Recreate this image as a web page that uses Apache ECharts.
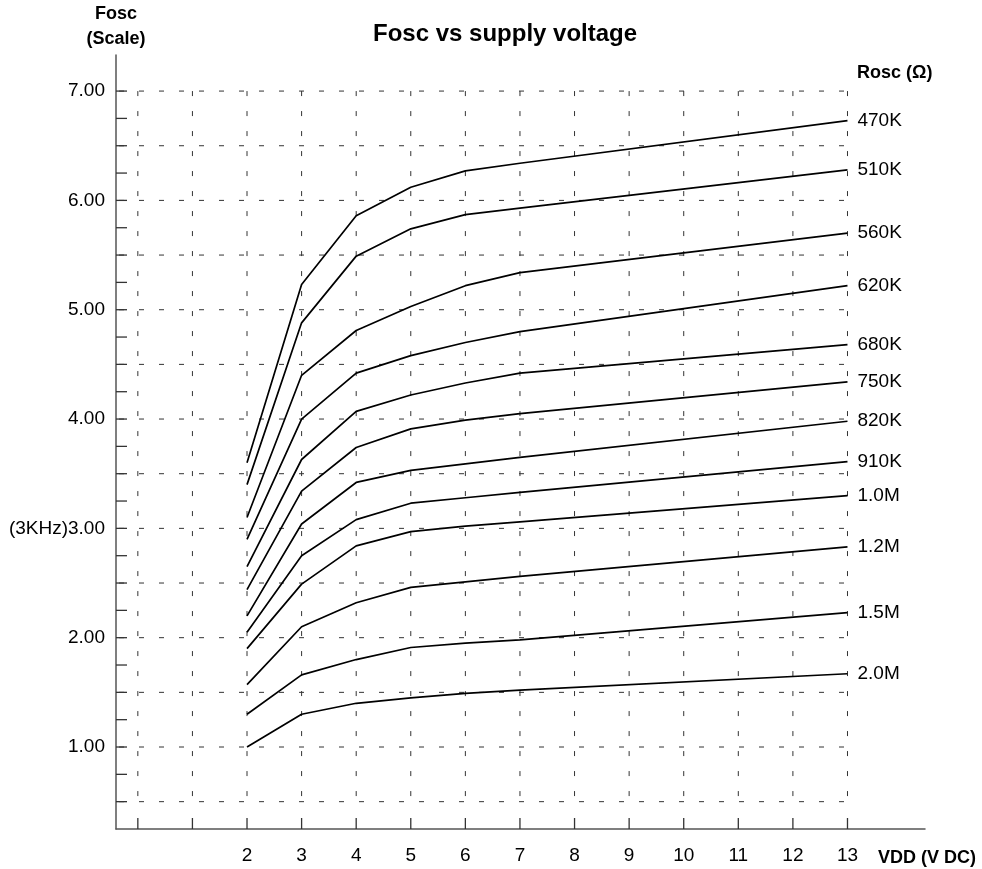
<!DOCTYPE html>
<html>
<head>
<meta charset="utf-8">
<script src="https://cdn.jsdelivr.net/npm/echarts@6/dist/echarts.min.js"></script>
<style>
html,body{margin:0;padding:0;background:#ffffff;}
#chart{width:982px;height:869px;}
</style>
</head>
<body>
<div id="chart"></div>
<script>
// ---------------- data ----------------
const vdd = [2, 3, 4, 5, 6, 7, 13];
const roscNames = ['470K', '510K', '560K', '620K', '680K', '750K', '820K', '910K', '1.0M', '1.2M', '1.5M', '2.0M'];
const f470K = [3.60, 5.23, 5.86, 6.12, 6.27, 6.34, 6.73];
const f510K = [3.40, 4.88, 5.49, 5.74, 5.87, 5.93, 6.28];
const f560K = [3.10, 4.40, 4.81, 5.03, 5.22, 5.34, 5.70];
const f620K = [2.90, 4.00, 4.42, 4.58, 4.70, 4.80, 5.22];
const f680K = [2.65, 3.63, 4.07, 4.22, 4.33, 4.42, 4.68];
const f750K = [2.44, 3.34, 3.74, 3.91, 3.99, 4.05, 4.34];
const f820K = [2.20, 3.04, 3.42, 3.53, 3.59, 3.65, 3.98];
const f910K = [2.05, 2.75, 3.08, 3.23, 3.28, 3.33, 3.61];
const f1M0 = [1.90, 2.49, 2.84, 2.97, 3.02, 3.06, 3.30];
const f1M2 = [1.57, 2.10, 2.32, 2.46, 2.51, 2.56, 2.83];
const f1M5 = [1.30, 1.66, 1.80, 1.91, 1.95, 1.98, 2.23];
const f2M0 = [1.00, 1.30, 1.40, 1.45, 1.49, 1.52, 1.67];
const seriesValues = [f470K, f510K, f560K, f620K, f680K, f750K, f820K, f910K, f1M0, f1M2, f1M5, f2M0];

const xGridTicks = [0, 1, 2, 3, 4, 5, 6, 7, 8, 9, 10, 11, 12, 13];
const xLabelValues = [2, 3, 4, 5, 6, 7, 8, 9, 10, 11, 12, 13];
const xTickLabels = ['2', '3', '4', '5', '6', '7', '8', '9', '10', '11', '12', '13'];
const yGridLines = [0.5, 1, 1.5, 2, 2.5, 3, 3.5, 4, 4.5, 5, 5.5, 6, 6.5, 7];
const yMinorTicks = [0.5, 0.75, 1, 1.25, 1.5, 1.75, 2, 2.25, 2.5, 2.75, 3, 3.25, 3.5, 3.75,
                     4, 4.25, 4.5, 4.75, 5, 5.25, 5.5, 5.75, 6, 6.25, 6.5, 6.75, 7];
const yLabelValues = [1, 2, 3, 4, 5, 6, 7];
const yTickLabels = ['1.00', '2.00', '(3KHz)3.00', '4.00', '5.00', '6.00', '7.00'];

// ---------------- layout / style ----------------
const X_MIN = -0.4, X_MAX = 14.42;
const Y_MIN = 0.25, Y_MAX = 7.33;
const FONT = '"Liberation Sans", Arial, Helvetica, sans-serif';
const gridXTop = Math.max(...yGridLines), gridXBottom = Math.min(...yGridLines);
const gridYRight = Math.max(...xGridTicks);

const chart = echarts.init(document.getElementById('chart'), null, {renderer: 'canvas'});

const lineSeries = roscNames.map((name, i) => ({
  name: name,
  type: 'line',
  data: vdd.map((x, j) => [x, seriesValues[i][j]]),
  symbol: 'none',
  z: 5,
  lineStyle: {color: '#000', width: 1.7},
  endLabel: {
    show: true,
    formatter: '{a}',
    color: '#000',
    fontSize: 19,
    fontFamily: FONT,
    distance: 10
  },
  emphasis: {disabled: true}
}));

const vGridSeries = {
  type: 'custom',
  silent: true,
  z: 1,
  data: xGridTicks.map(x => [x, Y_MIN]),
  renderItem: function (params, api) {
    const x = api.value(0);
    const top = api.coord([x, gridXTop]);
    const bot = api.coord([x, gridXBottom]);
    const ax = api.coord([x, Y_MIN]);
    return {
      type: 'group',
      children: [
        {type: 'line', shape: {x1: top[0], y1: top[1], x2: bot[0], y2: bot[1]},
         style: {stroke: '#333', lineWidth: 1, lineDash: [5, 15]}},
        {type: 'line', shape: {x1: ax[0], y1: ax[1], x2: ax[0], y2: ax[1] - 11},
         style: {stroke: '#333', lineWidth: 1.3}}
      ]
    };
  }
};

const hGridSeries = {
  type: 'custom',
  silent: true,
  z: 1,
  data: yGridLines.map(y => [X_MIN, y]),
  renderItem: function (params, api) {
    const y = api.value(1);
    const l = api.coord([X_MIN, y]);
    const r = api.coord([gridYRight, y]);
    return {type: 'line', shape: {x1: l[0] + 3, y1: l[1], x2: r[0], y2: r[1]},
            style: {stroke: '#333', lineWidth: 1, lineDash: [5, 15]}};
  }
};

const yTickSeries = {
  type: 'custom',
  silent: true,
  z: 2,
  data: yMinorTicks.map(y => [X_MIN, y]),
  renderItem: function (params, api) {
    const p = api.coord([X_MIN, api.value(1)]);
    return {type: 'line', shape: {x1: p[0], y1: p[1], x2: p[0] + 11, y2: p[1]},
            style: {stroke: '#333', lineWidth: 1.3}};
  }
};

const yLabelSeries = {
  type: 'custom',
  silent: true,
  z: 2,
  data: yLabelValues.map((y, i) => [X_MIN, y, i]),
  renderItem: function (params, api) {
    const p = api.coord([X_MIN, api.value(1)]);
    return {type: 'text', x: p[0] - 11, y: p[1],
            style: {text: yTickLabels[api.value(2)], fill: '#000', font: '19px ' + FONT,
                     align: 'right', verticalAlign: 'middle'}};
  }
};

const xLabelSeries = {
  type: 'custom',
  silent: true,
  z: 2,
  data: xLabelValues.map((x, i) => [x, Y_MIN, i]),
  renderItem: function (params, api) {
    const p = api.coord([api.value(0), Y_MIN]);
    return {type: 'text', x: p[0], y: p[1] + 27,
            style: {text: xTickLabels[api.value(2)], fill: '#000', font: '19px ' + FONT,
                    align: 'center', verticalAlign: 'middle'}};
  }
};

const option = {
  animation: false,
  backgroundColor: '#ffffff',
  title: {
    text: 'Fosc vs supply voltage',
    left: 368,
    top: 17,
    textStyle: {fontFamily: FONT, fontWeight: 'bold', fontSize: 24, color: '#000'}
  },
  graphic: [{
    type: 'text',
    left: 857,
    top: 64,
    style: {text: 'Rosc (Ω)', fill: '#000', font: 'bold 18px ' + FONT}
  }],
  grid: {left: 116, right: 57, top: 55, bottom: 40, containLabel: false},
  xAxis: {
    type: 'value',
    min: X_MIN,
    max: X_MAX,
    name: 'VDD (V DC)',
    nameLocation: 'end',
    nameGap: 2,
    nameTextStyle: {fontFamily: FONT, fontWeight: 'bold', fontSize: 18, color: '#000',
                    align: 'center', verticalAlign: 'top', padding: [20, 0, 0, 0]},
    axisLine: {show: true, onZero: false, lineStyle: {color: '#555', width: 1.5}},
    axisTick: {show: false},
    axisLabel: {show: false},
    splitLine: {show: false}
  },
  yAxis: {
    type: 'value',
    min: Y_MIN,
    max: Y_MAX,
    name: 'Fosc\n(Scale)',
    nameLocation: 'end',
    nameGap: 3,
    nameTextStyle: {fontFamily: FONT, fontWeight: 'bold', fontSize: 18, color: '#000',
                    align: 'center', lineHeight: 25},
    axisLine: {show: true, onZero: false, lineStyle: {color: '#555', width: 1.5}},
    axisTick: {show: false},
    axisLabel: {show: false},
    splitLine: {show: false}
  },
  series: [vGridSeries, hGridSeries, yTickSeries, yLabelSeries, xLabelSeries].concat(lineSeries)
};

chart.setOption(option);
</script>
</body>
</html>
